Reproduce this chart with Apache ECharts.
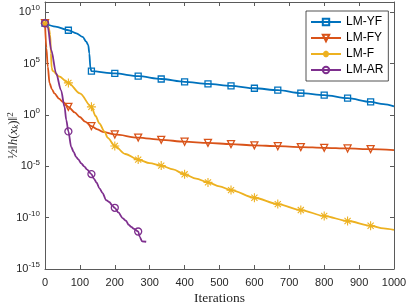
<!DOCTYPE html>
<html><head><meta charset="utf-8">
<script src="https://cdn.jsdelivr.net/npm/echarts@6/dist/echarts.min.js"></script>
<style>html,body{margin:0;padding:0;background:#fff}#c{width:407px;height:305px}</style>
</head><body><div id="c"></div>
<script>
// ---- data ----
const seriesNames = ['LM-YF', 'LM-FY', 'LM-F', 'LM-AR'];
const xTicks = [0,100,200,300,400,500,600,700,800,900,1000];
const markerIters = [0,67,133,200,267,333,400,467,533,600,667,733,800,867,933];

const yfIter = [0,30,67,90,108,118,124,127,130,133,200,267,333,400,467,533,600,667,733,800,867,933,970,1000];
const yfVal  = [8.5e8,4.0e8,1.78e8,8.9e7,4.0e7,1.41e7,6.3e6,1.0e6,4.0e4,1.82e4,1.1e4,6.0e3,3.16e3,1.66e3,1.07e3,676,398,257,132,85,42.7,18.6,11.2,7.0];

const fyIter = [0,4,8,13,20,27,40,51,67,85,100,115,133,150,165,200,267,333,400,467,533,600,667,733,800,867,933,1000];
const fyVal  = [8.5e8,3.16e6,5.0e4,1.26e3,316,126,39.8,18.6,6.17,1.78,0.63,0.224,0.081,0.040,0.023,0.0126,6.3e-3,3.8e-3,2.5e-3,1.9e-3,1.45e-3,1.1e-3,9.1e-4,7.4e-4,6.3e-4,5.5e-4,4.7e-4,3.8e-4];

const fIter = [0,10,15,17,19,22,40,67,100,133,145,156,170,180,200,230,267,300,333,367,400,433,467,500,533,600,667,733,800,867,933,970,1000];
const fVal  = [8.5e8,4e8,6.3e7,1e6,4e4,2e4,5.6e3,1.32e3,126,6.17,0.79,0.148,0.025,5.9e-3,9.5e-4,1.58e-4,4.5e-5,2.0e-5,1.17e-5,5.0e-6,1.66e-6,6.3e-7,2.7e-7,1.12e-7,4.8e-8,8.7e-9,2.1e-9,5.5e-10,1.45e-10,4.7e-11,1.62e-11,8.9e-12,6.3e-12];

const arIter = [0,8,18,32,46,56,61,67,75,82,89,95,104,112,120,133,140,148,156,165,175,185,192,200,210,223,232,240,247,255,267,272,278,290];
const arVal  = [8.5e8,3.7e8,2e6,1.1e4,251,6.17,0.316,0.025,7.9e-4,2.5e-4,8.3e-5,5e-5,1.9e-5,1e-5,5e-6,1.74e-6,6.3e-7,2.5e-7,7.1e-8,2.5e-8,5.1e-9,3.2e-9,1.58e-9,9.1e-10,3.2e-10,8.5e-11,5e-11,2e-11,1.29e-11,7.9e-12,4.5e-12,1.26e-12,5e-13,4.5e-13];

// ---- styles ----
const colors = ['#0072BD','#D95319','#EDB120','#7E2F8E'];
const star = 'path://M5,0L5,10M0,5L10,5M1.6,1.6L8.4,8.4M1.6,8.4L8.4,1.6';
const symbols = ['rect','triangle',star,'circle'];
const rot = [0,180,0,0];
const sizes = [6,7,9,7];
const bw = [1.3,1.3,1.1,1.3];
const iters = [yfIter,fyIter,fIter,arIter];
const vals = [yfVal,fyVal,fVal,arVal];

const series = seriesNames.map((name,k)=>({
  name, type:'line', xAxisIndex:0, yAxisIndex:0,
  smooth:0.3, smoothMonotone:'x',
  symbol:symbols[k], symbolSize:sizes[k], symbolRotate:rot[k],
  showSymbol:true, showAllSymbol:true,
  lineStyle:{color:colors[k], width:1.8},
  itemStyle:{color:'rgba(255,255,255,0)', borderColor:colors[k], borderWidth:bw[k]},
  emphasis:{disabled:true},
  data: iters[k].map((x,i)=>({value:[x, vals[k][i]], symbol: markerIters.includes(x)? symbols[k] : 'none'}))
}));

const axisCol = '#5a5a5a';
const labCol = '#262626';
const yLab = v => { const e = Math.round(Math.log10(v)); return (e % 5 === 0) ? '{b|10}{s|' + e + '}' : ''; };

const chart = echarts.init(document.getElementById('c'), null, {renderer:'canvas'});
chart.setOption({
  animation:false,
  backgroundColor:'#fff',
  color:colors,
  grid:{left:45, right:13, top:2, bottom:36, containLabel:false, outerBoundsMode:'none'},
  legend:{
    data:seriesNames, orient:'vertical', left:306, top:11,
    backgroundColor:'#fff', borderColor:'#262626', borderWidth:0.8, borderRadius:0,
    padding:[4,5,4,4], itemGap:2, itemWidth:30, itemHeight:8,
    textStyle:{fontSize:12, fontFamily:'Liberation Sans', color:'#000', lineHeight:14}
  },
  xAxis:[
    {type:'value', position:'bottom', min:0, max:1000, interval:100,
     axisLine:{onZero:false, lineStyle:{color:axisCol, width:1}},
     axisTick:{inside:true, length:4, lineStyle:{color:axisCol}},
     axisLabel:{fontSize:11, fontFamily:'Liberation Sans', color:labCol, margin:8,
       formatter: v => xTicks.includes(v) ? String(v) : ''},
     splitLine:{show:false},
     name:'Iterations', nameLocation:'middle', nameGap:22, nameMoveOverlap:false,
     nameTextStyle:{fontFamily:'Liberation Serif', fontSize:13.5, color:labCol}},
    {type:'value', position:'top', min:0, max:1000, interval:100,
     axisLine:{onZero:false, lineStyle:{color:axisCol, width:1}},
     axisTick:{inside:true, length:4, lineStyle:{color:axisCol}},
     axisLabel:{show:false}, splitLine:{show:false}}
  ],
  yAxis:[
    {type:'log', logBase:10, position:'left', min:1e-15, max:1e11, interval:5,
     axisLine:{onZero:false, lineStyle:{color:axisCol, width:1}},
     axisTick:{inside:true, length:4, lineStyle:{color:axisCol}},
     minorTick:{show:false},
     axisLabel:{color:labCol, margin:5, formatter:yLab,
       rich:{b:{fontSize:11, fontFamily:'Liberation Sans', color:labCol},
             s:{fontSize:8, fontFamily:'Liberation Sans', color:labCol, padding:[0,0,8,0]}}},
     splitLine:{show:false},
     name:'{f|½}{t|‖}{i|h}{t|(}{i|x}{k|k}{t|)‖}{p|2}', nameLocation:'middle', nameGap:23, nameRotate:90,
     nameMoveOverlap:false,
     nameTextStyle:{color:labCol, rich:{
       f:{fontFamily:'Liberation Serif', fontSize:13, color:labCol},
       t:{fontFamily:'Liberation Serif', fontSize:13, color:labCol},
       i:{fontFamily:'Liberation Serif', fontStyle:'italic', fontSize:13, color:labCol},
       k:{fontFamily:'Liberation Serif', fontStyle:'italic', fontSize:9, color:labCol, padding:[4,0,0,0]},
       p:{fontFamily:'Liberation Serif', fontSize:9, color:labCol, padding:[0,0,7,0]}}}},
    {type:'log', logBase:10, position:'right', min:1e-15, max:1e11, interval:5,
     axisLine:{onZero:false, lineStyle:{color:axisCol, width:1}},
     axisTick:{inside:true, length:4, lineStyle:{color:axisCol}},
     minorTick:{show:false},
     axisLabel:{show:false}, splitLine:{show:false}}
  ],
  series
});
</script></body></html>
